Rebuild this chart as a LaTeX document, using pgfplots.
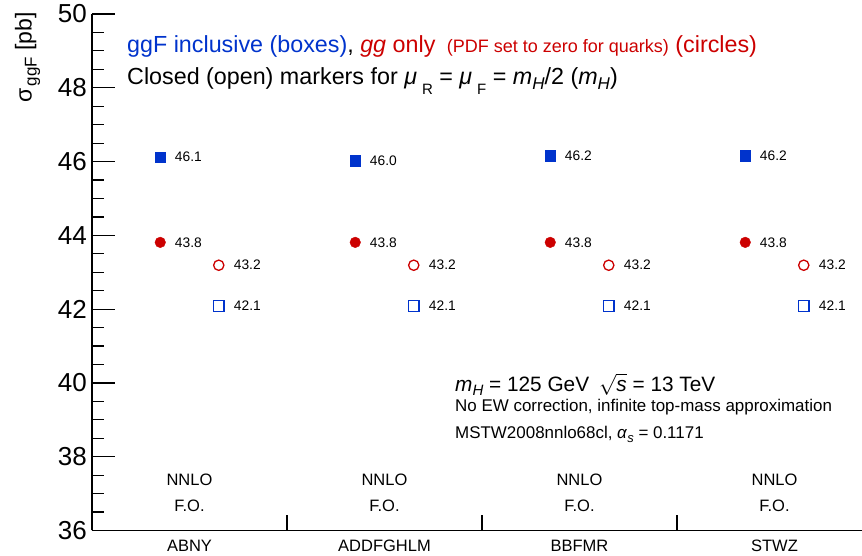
\documentclass[border=0pt]{standalone}
\usepackage{fontspec}
\setmainfont{Liberation Sans}
\usepackage{pgfplots}
\pgfplotsset{compat=1.18}
\definecolor{rblue}{RGB}{0,51,204}
\definecolor{rred}{RGB}{204,0,0}
\newcommand{\fs}[1]{\fontsize{#1}{#1}\selectfont}
\newcommand{\lsub}[3]{\raisebox{-#1}{\fs{#2}#3}}

\pgfplotstableread{
x y l
0.35 46.12 46.1
1.35 46.02 46.0
2.35 46.16 46.2
3.35 46.16 46.2
}\ggfhalf
\pgfplotstableread{
x y l
0.35 43.81 43.8
1.35 43.81 43.8
2.35 43.81 43.8
3.35 43.81 43.8
}\gghalf
\pgfplotstableread{
x y l
0.65 43.19 43.2
1.65 43.19 43.2
2.65 43.19 43.2
3.65 43.19 43.2
}\ggfull
\pgfplotstableread{
x y l
0.65 42.09 42.1
1.65 42.09 42.1
2.65 42.09 42.1
3.65 42.09 42.1
}\ggffull

\begin{document}
\begin{tikzpicture}
\begin{axis}[
  scale only axis, width=770pt, height=516.5pt,
  xmin=0, xmax=3.9487, ymin=36, ymax=50,
  axis x line*=bottom, axis y line*=left,
  axis line style={line width=1.6pt, black},
  clip=false,
  ytick={36,38,...,50}, minor y tick num=3,
  tick align=inside,
  major tick length=23pt, minor tick length=12pt,
  tick style={black, line width=1.2pt},
  yticklabel style={font=\fs{26}, inner sep=0pt, anchor=east, xshift=-5pt},
  /pgf/number format/assume math mode=true,
  xtick={0.5,1.5,2.5,3.5},
  xticklabels={ABNY,ADDFGHLM,BBFMR,STWZ},
  xtick style={draw=none},
  xticklabel style={font=\fs{16.5}, inner sep=0pt, anchor=base, yshift=-21.5pt},
  extra x ticks={1,2,3}, extra x tick labels={},
  extra x tick style={major tick length=15pt, xtick style={draw=black}},
  ylabel={σ\hspace{2pt}\lsub{5pt}{17}{ggF} [pb]},
  ylabel style={at={(axis description cs:-0.0838,1.0039)}, anchor=east, inner sep=0pt, font=\fs{23}},
  every node near coord/.style={anchor=west, xshift=14.5pt, inner sep=0pt, font=\fs{13.8}, text=black},
]
\addplot[only marks, mark=square*, mark size=5.3pt, color=rblue, mark options={line width=0.4pt},
  nodes near coords, point meta=explicit symbolic] table[x=x, y=y, meta=l] {\ggfhalf};
\addplot[only marks, mark=*, mark size=5.3pt, color=rred, mark options={line width=0.4pt},
  nodes near coords, point meta=explicit symbolic] table[x=x, y=y, meta=l] {\gghalf};
\addplot[only marks, mark=o, mark size=5.15pt, color=rred, mark options={line width=1.3pt, fill=none},
  nodes near coords, point meta=explicit symbolic] table[x=x, y=y, meta=l] {\ggfull};
\addplot[only marks, mark=square, mark size=5.4pt, color=rblue, mark options={line width=1.4pt, fill=none},
  nodes near coords, point meta=explicit symbolic] table[x=x, y=y, meta=l] {\ggffull};

\node[anchor=base, inner sep=0pt, font=\fs{16.5}] at (axis cs:0.5,37.233) {NNLO};
\node[anchor=base, inner sep=0pt, font=\fs{16.5}] at (axis cs:1.5,37.233) {NNLO};
\node[anchor=base, inner sep=0pt, font=\fs{16.5}] at (axis cs:2.5,37.233) {NNLO};
\node[anchor=base, inner sep=0pt, font=\fs{16.5}] at (axis cs:3.5,37.233) {NNLO};
\node[anchor=base, inner sep=0pt, font=\fs{16.5}] at (axis cs:0.5,36.528) {F.O.};
\node[anchor=base, inner sep=0pt, font=\fs{16.5}] at (axis cs:1.5,36.528) {F.O.};
\node[anchor=base, inner sep=0pt, font=\fs{16.5}] at (axis cs:2.5,36.528) {F.O.};
\node[anchor=base, inner sep=0pt, font=\fs{16.5}] at (axis cs:3.5,36.528) {F.O.};

\node[anchor=base west, inner sep=0pt, font=\fs{23.3}] at (axis cs:0.1795,48.943)
  {\textcolor{rblue}{ggF inclusive (boxes)}, \textcolor{rred}{\textit{gg} only {\fs{18}\ (PDF set to zero for quarks)} (circles)}};
\node[anchor=base west, inner sep=0pt, font=\fs{23.3}] at (axis cs:0.1795,48.076)
  {Closed (open) markers for \textit{μ}\hspace{5pt}\lsub{10pt}{15}{R} = \textit{μ}\hspace{5pt}\lsub{10pt}{15}{F} = \textit{m}\lsub{5pt}{17}{\textit{H}}/2 (\textit{m}\lsub{5pt}{17}{\textit{H}})};

\node[anchor=base west, inner sep=0pt, font=\fs{20.8}] at (axis cs:1.8615,39.781)
  {\textit{m}\lsub{4pt}{15}{\textit{H}} = 125 GeV\hspace{10pt}\(\sqrt{\mbox{\itshape s}}\) = 13 TeV};
\node[anchor=base west, inner sep=0pt, font=\fs{16.95}] at (axis cs:1.8615,39.212)
  {No EW correction, infinite top-mass approximation};
\node[anchor=base west, inner sep=0pt, font=\fs{16.95}] at (axis cs:1.8615,38.507)
  {MSTW2008nnlo68cl, \textit{α}\lsub{4pt}{13}{\textit{s}} = 0.1171};
\end{axis}
\pgfresetboundingbox
\path[use as bounding box] (-92pt,-25.5pt) rectangle (770pt,530.5pt);
\end{tikzpicture}
\end{document}
